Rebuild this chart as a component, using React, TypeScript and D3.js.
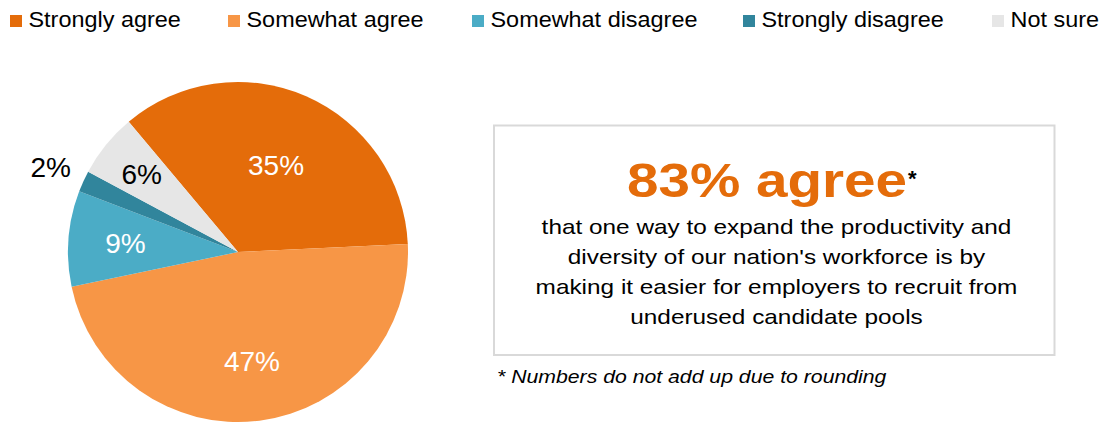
import React from "react";
import * as d3 from "d3";

const categories = ["Strongly agree", "Somewhat agree", "Somewhat disagree", "Strongly disagree", "Not sure"];
const values = [35, 47, 9, 2, 6];
const colors = ["#E46C0A", "#F79646", "#4BACC6", "#31859C", "#E6E6E6"];
const labelColors = ["#ffffff", "#ffffff", "#ffffff", "#000000", "#000000"];
const labelRadii = [95, 110, 113, 206, 124];
const legendX = [10, 228, 472, 743, 992];
const headline = "83% agree";
const bodyLines = [
  "that one way to expand the productivity and",
  "diversity of our nation's workforce is by",
  "making it easier for employers to recruit from",
  "underused candidate pools",
];
const footnote = "* Numbers do not add up due to rounding";

const FONT = "'Liberation Sans', Arial, sans-serif";

export default function App() {
  const W = 1102, H = 423;
  const cx = 238, cy = 252, r = 170;
  const pie = d3
    .pie<number>()
    .sort(null)
    .value((d) => d)
    .startAngle((-40 * Math.PI) / 180)
    .endAngle((320 * Math.PI) / 180);
  const arcs = pie(values);
  const arcGen = d3.arc<d3.PieArcDatum<number>>().innerRadius(0).outerRadius(r);

  return (
    <svg width={W} height={H} style={{ position: "absolute", left: 0, top: 0, fontFamily: FONT }}>
      <rect width={W} height={H} fill="#ffffff" />
      {categories.map((c, i) => (
        <g key={c}>
          <rect x={legendX[i]} y={15} width={12} height={12} fill={colors[i]} />
          <text
            transform={`translate(${legendX[i] + 18.5},27.3) scale(1.09,1)`}
            fontSize={21.5}
            fill="#000"
          >
            {c}
          </text>
        </g>
      ))}
      <g transform={`translate(${cx},${cy})`}>
        {arcs.map((a, i) => (
          <path key={i} d={arcGen(a) || ""} fill={colors[i]} />
        ))}
        {arcs.map((a, i) => {
          const mid = (a.startAngle + a.endAngle) / 2;
          const lr = labelRadii[i];
          const x = lr * Math.sin(mid);
          const y = -lr * Math.cos(mid);
          return (
            <text key={"l" + i} x={x} y={y} dy="0.36em" textAnchor="middle" fontSize={28} fill={labelColors[i]}>
              {values[i]}%
            </text>
          );
        })}
      </g>
      <rect x={494} y={125.5} width={560.5} height={229.5} fill="none" stroke="#d9d9d9" strokeWidth={2} />
      <text
        transform="translate(767,197) scale(1.18,1)"
        textAnchor="middle"
        fontSize={48}
        fontWeight="bold"
        fill="#E46C0A"
      >
        {headline}
      </text>
      <text x={908} y={186} fontSize={22} fontWeight="bold" fill="#000">
        *
      </text>
      {bodyLines.map((l, i) => (
        <text
          key={l}
          transform={`translate(776.5,${234.3 + i * 30}) scale(1.16,1)`}
          textAnchor="middle"
          fontSize={21}
          fill="#000"
        >
          {l}
        </text>
      ))}
      <text transform="translate(497,383) scale(1.18,1)" fontSize={18} fontStyle="italic" fill="#000">
        {footnote}
      </text>
    </svg>
  );
}
